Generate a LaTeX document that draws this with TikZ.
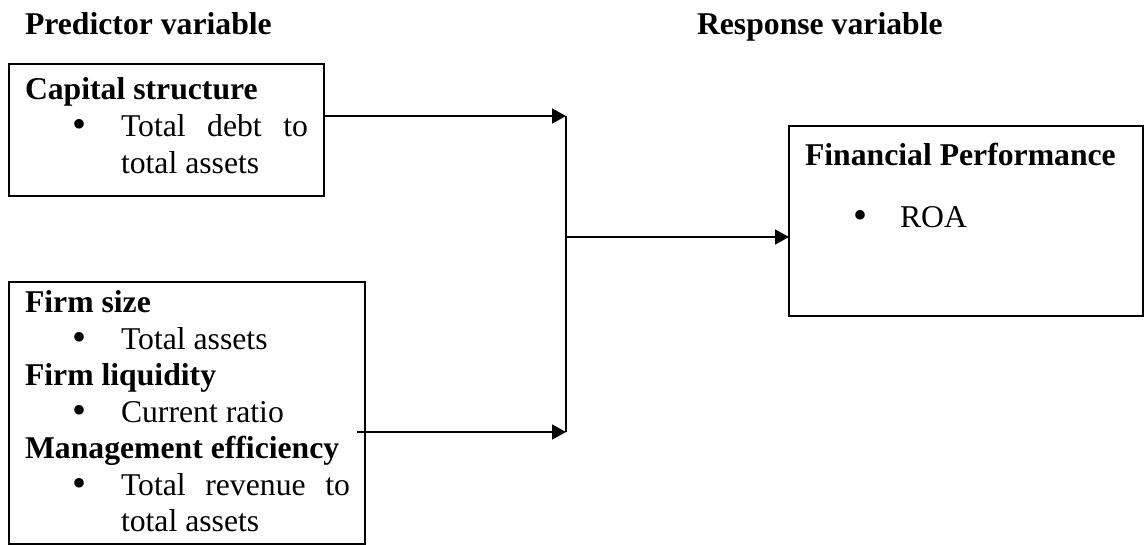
\documentclass[tikz,border=0pt]{standalone}
\usepackage{fontspec}
\setmainfont{Liberation Serif}
\usetikzlibrary{arrows.meta}
\begin{document}
\begin{tikzpicture}[x=1pt,y=-1pt,
  txt/.style={anchor=base west, inner sep=0pt, outer sep=0pt, font=\fontsize{31.7}{36.5}\selectfont},
  hd/.style={anchor=base west, inner sep=0pt, outer sep=0pt, font=\fontsize{31.7}{36.5}\selectfont\bfseries},
  bul/.style={anchor=base, inner sep=0pt, outer sep=0pt, font=\fontsize{40}{36.5}\selectfont},
  box/.style={draw, line width=2pt, inner sep=0pt, outer sep=0pt, anchor=north west},
  arr/.style={line width=1.8pt, -{Triangle[length=14pt,width=15pt]}},
  ln/.style={line width=1.8pt}]
\useasboundingbox (0,0) rectangle (1146,544);
\fill[white] (0,0) rectangle (1146,544);
% headings
\node[hd] (pv) at (25,34) {Predictor variable};
\node[hd] (rv) at (697,34) {Response variable};
% box 1
\node[box, minimum width=315pt, minimum height=132pt] (cs) at (9,64) {};
\node[hd] (cst) at (25,99) {Capital structure};
\node[bul] (b1) at (80,137) {•};
\node[txt] (t1) at (121,136) {\makebox[187pt][s]{Total debt to}};
\node[txt] (t2) at (121,173) {total assets};
% box 2
\node[box, minimum width=356pt, minimum height=262pt] (fs) at (9,282) {};
\node[hd] (h1) at (25,312) {Firm size};
\node[bul] (b2) at (80,350) {•};
\node[txt] (t3) at (121,349) {Total assets};
\node[hd] (h2) at (25,385) {Firm liquidity};
\node[bul] (b3) at (80,423) {•};
\node[txt] (t4) at (121,422) {Current ratio};
\node[hd] (h3) at (25,458) {Management efficiency};
\node[bul] (b4) at (80,496) {•};
\node[txt] (t5) at (121,495) {\makebox[229pt][s]{Total revenue to}};
\node[txt] (t6) at (121,531) {total assets};
% box 3
\node[box, minimum width=354pt, minimum height=190pt] (fp) at (789,126) {};
\node[hd] (h4) at (805,165) {Financial Performance};
\node[bul] (b5) at (860,228) {•};
\node[txt] (t7) at (900,227) {ROA};
% connectors
\coordinate (jt) at (566,116);
\coordinate (jm) at (566,237);
\coordinate (jb) at (566,432);
\coordinate (s2) at (357,432);
\draw[arr] (jt -| cs.east) -- (jt);
\draw[arr] (s2) -- (jb);
\draw[ln] (jt) -- (jb);
\draw[arr] (jm) -- (jm -| fp.west);
\end{tikzpicture}
\end{document}
